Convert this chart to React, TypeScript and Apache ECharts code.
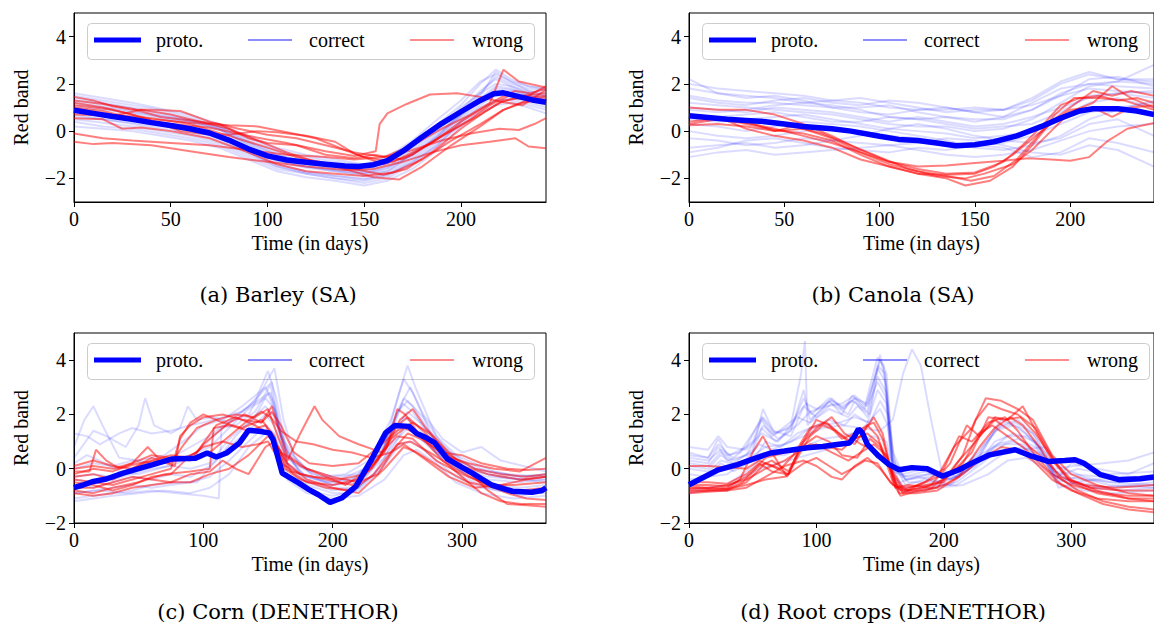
import React, { useEffect, useRef } from "react";
import * as echarts from "echarts";

// ---------- tick labels / texts ----------
const X_TICKS_SA = [0, 50, 100, 150, 200];
const X_TICKS_DEN = [0, 100, 200, 300];
const Y_TICKS = [-2, 0, 2, 4];
const LEGEND_LABELS = ["proto.", "correct", "wrong"];
const CAPTIONS = ["(a) Barley (SA)", "(b) Canola (SA)", "(c) Corn (DENETHOR)", "(d) Root crops (DENETHOR)"];
const X_NAME = "Time (in days)";
const Y_NAME = "Red band";

// ---------- (a) Barley ----------
const PROTO_A = [[0,0.88],[10,0.75],[20,0.62],[30,0.5],[40,0.36],[50,0.24],[60,0.1],[70,-0.08],[80,-0.38],[90,-0.75],[100,-1.05],[110,-1.22],[120,-1.32],[130,-1.4],[140,-1.48],[147,-1.5],[155,-1.42],[162,-1.25],[170,-0.85],[180,-0.25],[190,0.32],[200,0.82],[210,1.3],[217,1.58],[222,1.62],[230,1.46],[237,1.32],[244,1.22]];
const DAYS_A = [0,15,30,45,60,75,90,105,120,135,150,162,175,188,200,210,218,226,235,244];
const CORRECT_A = [
  [1.5,1.3,1.1,0.9,0.6,0.2,-0.4,-0.9,-1.2,-1.4,-1.5,-1.3,-0.7,0.1,1.0,1.6,2.3,2.0,1.8,1.7],
  [0.4,0.2,0.1,-0.1,-0.3,-0.6,-1.1,-1.6,-1.8,-2.0,-2.2,-2.0,-1.4,-0.6,0.4,1.0,1.3,1.3,1.1,0.9],
  [1.2,1.05,0.85,0.6,0.4,0.1,-0.5,-1.0,-1.3,-1.5,-1.7,-1.5,-0.9,-0.1,0.7,1.5,2.5,2.1,1.7,1.5],
  [0.7,0.5,0.3,0.1,-0.1,-0.4,-0.9,-1.4,-1.7,-1.9,-2.0,-1.8,-1.2,-0.4,0.5,1.2,1.6,1.7,1.5,1.3],
  [1.0,0.9,0.75,0.55,0.35,0.05,-0.55,-1.1,-1.4,-1.6,-1.75,-1.6,-1.0,-0.2,0.7,1.4,1.9,1.8,1.6,1.4],
  [0.2,0.1,0.0,-0.2,-0.4,-0.7,-1.2,-1.7,-1.95,-2.1,-2.3,-2.1,-1.6,-0.8,0.2,0.8,1.1,1.2,1.0,0.75],
  [1.4,1.2,1.0,0.8,0.5,0.2,-0.3,-0.8,-1.1,-1.3,-1.45,-1.2,-0.5,0.3,1.1,2.0,2.6,2.2,1.9,1.8],
  [0.9,0.7,0.55,0.35,0.15,-0.2,-0.8,-1.3,-1.55,-1.7,-1.8,-1.7,-1.1,-0.3,0.6,1.3,1.7,1.6,1.5,1.3],
  [0.6,0.5,0.35,0.2,0.0,-0.3,-0.9,-1.5,-1.8,-2.0,-2.1,-1.9,-1.3,-0.5,0.4,1.1,1.5,1.5,1.3,1.1],
  [1.1,1.0,0.8,0.65,0.45,0.15,-0.45,-1.0,-1.35,-1.55,-1.65,-1.4,-0.8,0.0,0.9,1.7,2.2,1.9,1.6,1.5],
  [1.3,1.15,0.95,0.7,0.45,0.1,-0.6,-1.2,-1.5,-1.7,-1.9,-1.7,-1.0,-0.2,0.8,1.6,2.0,1.9,1.7,1.6],
  [0.5,0.35,0.2,0.0,-0.2,-0.5,-1.0,-1.5,-1.75,-1.9,-2.05,-1.85,-1.3,-0.6,0.3,0.9,1.3,1.4,1.2,1.0],
  [0.85,0.65,0.45,0.3,0.05,-0.25,-0.8,-1.25,-1.5,-1.65,-1.8,-1.55,-1.0,-0.25,0.65,1.35,1.8,1.75,1.55,1.35],
  [1.6,1.4,1.2,0.95,0.7,0.3,-0.2,-0.7,-1.0,-1.2,-1.4,-1.1,-0.4,0.5,1.3,2.1,2.4,2.1,1.9,1.75],
];
const WRONG_A = [
  [[0,1.0],[15,0.85],[30,0.55],[50,0.3],[70,0.15],[90,-0.2],[110,-0.5],[130,-0.85],[145,-1.05],[156,-0.85],[158,0.3],[162,0.75],[172,1.15],[184,1.55],[198,1.6],[210,1.45],[220,1.25],[232,1.1],[244,1.75]],
  [[0,-0.1],[15,-0.3],[30,-0.4],[50,-0.5],[70,-0.6],[90,-0.8],[110,-1.0],[130,-1.1],[145,-1.2],[160,-1.1],[175,-0.8],[190,-0.4],[205,-0.1],[220,0.1],[230,0.05],[238,0.3],[244,0.55]],
  [[0,-0.45],[10,-0.55],[20,-0.5],[40,-0.6],[60,-0.85],[80,-1.1],[100,-1.3],[120,-1.5],[140,-1.65],[155,-1.6],[170,-1.3],[185,-0.9],[200,-0.6],[215,-0.45],[228,-0.3],[235,-0.65],[244,-0.72]],
  [[0,1.45],[10,1.3],[20,1.05],[30,0.9],[40,0.9],[55,0.85],[70,0.4],[85,0.1],[100,-0.15],[115,-0.3],[130,-0.6],[145,-0.9],[160,-1.1],[175,-0.6],[190,0.1],[205,0.7],[215,1.2],[222,2.6],[230,2.1],[244,1.85]],
  [[0,1.2],[15,1.0],[30,0.7],[45,0.3],[55,0.0],[65,-0.1],[80,-0.15],[95,0.0],[105,-0.05],[120,-0.2],[135,-0.45],[145,-0.95],[160,-1.4],[175,-1.0],[190,-0.2],[205,0.5],[215,1.1],[225,1.5],[235,1.5],[244,1.9]],
  [[0,1.1],[20,0.9],[40,0.5],[60,0.35],[80,0.25],[95,0.2],[110,-0.05],[125,-0.3],[140,-0.8],[150,-1.1],[165,-1.3],[180,-0.7],[195,0.0],[210,0.7],[220,1.2],[232,1.5],[244,1.6]],
  [[0,0.55],[15,0.5],[25,0.1],[35,0.15],[50,0.0],[70,-0.3],[90,-0.9],[105,-1.4],[120,-1.7],[135,-1.8],[150,-1.9],[165,-1.75],[180,-1.2],[195,-0.4],[210,0.3],[222,0.9],[232,1.2],[244,1.35]],
  [[0,0.95],[20,0.7],[40,0.55],[60,0.3],[80,-0.2],[100,-0.7],[115,-1.1],[130,-1.35],[145,-1.6],[160,-1.85],[172,-1.6],[185,-0.9],[200,0.1],[212,0.8],[222,1.3],[232,1.4],[244,1.5]],
  [[0,0.7],[20,0.65],[35,0.9],[50,0.7],[65,0.4],[80,0.1],[95,-0.4],[110,-0.9],[125,-1.3],[140,-1.6],[155,-1.95],[168,-2.05],[180,-1.5],[195,-0.6],[210,0.2],[222,0.9],[234,1.3],[244,1.45]],
  [[0,1.3],[15,1.15],[30,0.95],[45,0.6],[60,0.45],[75,0.3],[90,-0.3],[100,-0.5],[115,-0.6],[130,-1.0],[145,-1.15],[155,-1.0],[170,-1.2],[185,-0.5],[200,0.4],[212,1.0],[220,1.4],[228,1.7],[236,1.6],[244,1.8]],
];

// ---------- (b) Canola ----------
const PROTO_B = [[0,0.65],[10,0.58],[20,0.5],[30,0.45],[40,0.4],[50,0.3],[60,0.2],[75,0.1],[85,0.0],[100,-0.22],[110,-0.35],[120,-0.4],[130,-0.5],[140,-0.62],[150,-0.58],[160,-0.45],[172,-0.2],[185,0.2],[195,0.55],[205,0.85],[212,0.95],[225,0.95],[235,0.85],[244,0.7]];
const DAYS_B = [0,15,30,45,60,75,90,105,120,135,150,165,180,195,210,225,244];
const CORRECT_B = [
  [2.2,1.6,1.5,1.4,1.2,1.1,0.9,0.6,0.5,0.6,0.4,0.6,1.2,1.8,2.0,2.1,2.0],
  [1.5,1.3,1.2,1.2,1.1,1.0,1.0,1.1,0.8,0.6,0.5,0.5,0.9,1.5,1.8,1.7,1.6],
  [1.2,1.1,1.0,0.9,0.8,0.7,0.5,0.3,0.2,0.2,0.0,0.1,0.5,1.2,1.9,2.1,2.8],
  [-0.7,-0.6,-0.5,-0.7,-0.6,-0.4,-0.5,-0.6,-0.8,-1.0,-1.1,-1.0,-0.8,-0.4,0.0,0.2,0.3],
  [-1.1,-0.9,-0.8,-1.0,-0.9,-0.8,-0.7,-0.6,-0.5,-0.3,-0.4,-0.6,-0.9,-1.0,-0.6,-0.8,-1.5],
  [0.9,0.8,0.9,1.1,1.2,1.3,1.2,1.0,0.9,0.9,1.0,0.9,1.1,1.5,2.2,2.3,1.9],
  [0.0,-0.2,-0.3,-0.2,0.0,0.1,0.0,-0.2,-0.3,-0.5,-0.6,-0.5,-0.2,0.3,0.8,1.0,1.2],
  [1.8,1.6,1.4,1.5,1.3,1.0,0.8,0.7,0.9,1.0,0.8,0.6,0.9,1.6,2.0,1.9,1.8],
  [0.5,0.4,0.5,0.6,0.7,0.5,0.3,0.1,0.0,-0.1,-0.3,-0.2,0.0,0.6,1.2,1.4,1.0],
  [1.0,0.9,0.8,1.0,0.9,0.8,0.6,0.4,0.6,0.4,0.2,0.3,0.6,1.0,1.4,1.6,1.7],
  [-0.3,-0.4,-0.6,-0.5,-0.3,-0.4,-0.2,0.1,0.3,0.1,-0.2,-0.4,-0.5,-0.3,0.3,0.5,-0.2],
  [1.4,1.2,1.1,1.3,1.4,1.2,1.1,1.3,1.2,1.0,0.8,0.9,1.3,2.0,2.4,2.2,2.2],
  [0.3,0.2,0.0,0.2,0.4,0.3,0.2,0.0,-0.2,-0.4,-0.7,-0.8,-0.6,-0.2,0.5,0.9,1.3],
  [2.0,1.8,1.7,1.6,1.5,1.3,1.4,1.2,1.0,0.8,0.9,0.9,1.4,2.1,2.5,2.2,2.1],
  [-0.9,-0.7,-0.4,-0.3,-0.5,-0.7,-0.8,-0.9,-0.7,-0.8,-0.6,-0.7,-1.1,-0.9,-0.3,-0.5,-0.9],
  [0.7,0.6,0.7,0.8,0.6,0.4,0.4,0.6,0.5,0.3,0.1,0.2,0.3,0.8,1.5,1.6,1.4],
];
const WRONG_B = [
  [[0,1.0],[15,0.9],[30,0.9],[45,0.7],[60,0.3],[75,-0.2],[90,-0.8],[105,-1.3],[120,-1.6],[135,-1.8],[150,-1.75],[165,-1.3],[175,-0.6],[185,0.2],[195,1.1],[205,1.4],[215,1.5],[225,1.3],[235,1.4],[244,1.2]],
  [[0,0.3],[15,0.5],[30,0.4],[45,0.0],[55,0.2],[70,-0.1],[85,-0.6],[100,-1.1],[115,-1.6],[130,-1.9],[145,-2.0],[155,-1.8],[170,-1.4],[180,-0.8],[190,0.0],[200,0.8],[212,1.2],[222,1.9],[232,1.4],[244,1.0]],
  [[0,0.6],[15,0.6],[30,0.1],[45,-0.2],[60,-0.4],[75,-0.7],[90,-1.2],[105,-1.5],[120,-1.8],[135,-2.0],[145,-2.3],[158,-2.1],[170,-1.5],[180,-0.6],[190,0.4],[200,1.0],[212,1.7],[222,1.5],[232,1.7],[244,1.5]],
  [[0,0.25],[15,0.3],[30,0.2],[45,0.0],[60,0.1],[75,-0.3],[90,-0.9],[105,-1.3],[120,-1.5],[135,-1.45],[150,-1.35],[165,-1.25],[178,-1.15],[190,-1.2],[200,-1.25],[210,-1.1],[220,-0.4],[230,0.1],[244,0.35]],
  [[0,0.7],[15,0.5],[30,0.35],[45,0.1],[60,-0.2],[75,-0.5],[90,-0.9],[105,-1.4],[120,-1.7],[135,-1.9],[148,-2.1],[160,-1.9],[172,-1.2],[182,-0.3],[192,0.7],[202,1.4],[215,1.4],[228,1.3],[244,0.9]],
  [[0,0.4],[15,0.55],[30,0.3],[45,0.05],[60,-0.1],[75,-0.4],[90,-1.0],[105,-1.5],[120,-1.8],[135,-1.85],[150,-1.8],[160,-1.5],[170,-1.0],[182,-0.2],[190,0.3],[200,0.9],[212,1.0],[222,0.6],[232,1.0],[244,1.1]],
];

// ---------- (c) Corn ----------
const PROTO_C = [[0,-0.7],[7,-0.6],[15,-0.47],[25,-0.38],[38,-0.16],[50,0.0],[61,0.15],[76,0.36],[94,0.39],[103,0.58],[110,0.43],[118,0.58],[128,0.95],[135,1.42],[143,1.38],[151,1.32],[154,1.07],[161,-0.16],[174,-0.53],[181,-0.75],[189,-0.96],[198,-1.24],[207,-1.08],[218,-0.65],[230,0.33],[241,1.32],[248,1.59],[259,1.56],[265,1.3],[272,1.15],[279,0.95],[289,0.35],[300,0.05],[308,-0.16],[323,-0.6],[339,-0.83],[354,-0.87],[362,-0.8],[365,-0.7]];
const CORRECT_C = [
  [[0,-0.9],[20,-0.8],[40,-0.9],[60,-0.8],[80,-0.9],[100,-1.0],[112,-1.1],[114,1.5],[125,1.6],[140,2.1],[152,3.1],[158,1.5],[165,0.2],[180,-0.3],[200,-0.6],[220,-0.5],[240,0.4],[255,1.9],[265,1.6],[280,0.6],[300,-0.1],[320,-0.4],[345,-0.5],[365,-0.4]],
  [[0,0.8],[8,1.8],[15,2.3],[22,1.6],[35,0.4],[50,0.3],[70,0.5],[90,1.2],[100,1.6],[115,1.8],[130,2.3],[148,3.0],[155,2.4],[165,0.5],[180,-0.4],[200,-0.7],[220,-0.7],[240,0.6],[255,2.6],[262,2.3],[280,1.0],[300,0.0],[330,-0.3],[365,-0.5]],
  [[0,0.4],[15,1.4],[25,1.2],[40,0.8],[50,1.6],[55,2.6],[62,1.6],[75,1.3],[82,1.5],[88,2.3],[95,1.8],[108,1.9],[120,1.7],[135,2.0],[150,3.3],[155,3.7],[162,1.8],[170,0.5],[185,-0.3],[200,-0.6],[220,-0.4],[240,0.8],[252,2.9],[258,3.8],[264,3.0],[280,1.2],[300,0.3],[320,-0.1],[345,-0.3],[365,-0.2]],
  [[0,-1.1],[15,-1.0],[30,-0.9],[45,-0.8],[60,-0.6],[80,-0.5],[95,-0.5],[110,0.3],[125,1.2],[140,1.9],[150,2.8],[156,2.0],[165,0.2],[180,-0.5],[200,-0.8],[220,-0.7],[240,0.2],[255,1.5],[265,1.3],[285,0.4],[300,-0.3],[320,-0.7],[345,-1.0],[365,-0.8]],
  [[0,-0.3],[15,-0.2],[30,-0.3],[45,0.0],[60,0.1],[75,0.3],[90,0.5],[105,0.8],[120,1.5],[135,2.2],[148,2.6],[155,2.2],[163,0.8],[175,-0.2],[195,-0.5],[215,-0.4],[235,0.4],[250,1.6],[258,2.1],[270,1.6],[285,0.7],[300,0.0],[320,-0.3],[345,-0.4],[365,-0.3]],
  [[0,-0.6],[15,-0.7],[30,-0.5],[45,-0.3],[60,-0.4],[75,-0.2],[90,-0.3],[105,0.1],[120,0.8],[135,1.4],[148,2.0],[155,1.6],[165,0.0],[180,-0.6],[200,-0.9],[215,-0.9],[232,-0.2],[248,1.0],[258,1.5],[270,1.0],[290,0.2],[305,-0.3],[325,-0.6],[345,-0.7],[365,-0.6]],
  [[0,0.2],[10,0.5],[20,0.3],[35,-0.1],[50,-0.2],[65,0.0],[80,0.2],[95,0.6],[110,1.3],[125,1.9],[140,2.5],[150,3.6],[156,2.7],[163,1.0],[175,0.1],[190,-0.3],[210,-0.2],[228,0.3],[245,1.8],[255,3.3],[262,2.8],[275,1.4],[290,0.5],[310,0.0],[335,-0.2],[365,-0.3]],
  [[0,-0.9],[15,-0.8],[30,-0.7],[45,-0.6],[60,-0.7],[75,-0.6],[90,-0.5],[105,-0.3],[120,0.3],[135,1.0],[148,1.6],[155,1.3],[165,-0.2],[180,-0.8],[200,-1.0],[220,-0.8],[238,0.0],[252,0.9],[262,1.0],[278,0.4],[295,-0.3],[315,-0.7],[340,-0.9],[365,-0.9]],
  [[0,-0.4],[15,-0.5],[30,-0.4],[45,-0.2],[60,0.0],[75,0.1],[90,0.0],[105,0.2],[120,1.1],[135,1.7],[148,2.3],[155,1.9],[165,0.4],[180,-0.3],[200,-0.5],[220,-0.3],[238,0.6],[250,2.1],[258,2.5],[270,1.9],[285,0.9],[300,0.2],[320,-0.2],[345,-0.4],[365,-0.4]],
  [[0,1.3],[10,1.2],[20,0.9],[35,1.3],[45,1.5],[60,1.3],[75,1.4],[90,1.6],[100,1.7],[115,1.9],[130,2.1],[145,2.6],[152,2.8],[158,1.6],[166,0.6],[180,0.0],[200,-0.3],[220,-0.2],[240,0.9],[252,2.3],[260,3.0],[270,2.0],[285,1.1],[300,0.6],[315,0.8],[330,0.3],[365,-0.1]],
  [[0,-1.2],[15,-1.1],[30,-1.0],[50,-0.9],[70,-0.8],[90,-0.9],[105,-0.7],[120,-0.2],[135,0.8],[148,1.3],[155,1.0],[165,-0.4],[180,-0.9],[200,-1.1],[220,-1.0],[240,-0.4],[255,0.5],[265,0.7],[280,0.2],[295,-0.5],[315,-0.9],[340,-1.1],[365,-1.0]],
  [[0,0.0],[15,0.2],[30,0.1],[45,0.3],[60,0.2],[75,0.4],[90,0.8],[105,1.2],[120,1.8],[135,2.3],[147,2.9],[153,3.2],[160,1.2],[170,0.2],[185,-0.2],[205,-0.4],[225,0.0],[242,1.2],[254,2.4],[262,2.1],[275,1.2],[290,0.6],[305,0.3],[325,-0.1],[345,-0.3],[365,-0.2]],
];
const WRONG_C = [
  [[0,-0.1],[12,-0.1],[17,0.7],[25,0.3],[35,0.0],[50,0.2],[65,0.3],[78,0.1],[82,1.2],[90,1.6],[100,1.9],[115,2.0],[130,1.8],[145,1.7],[153,2.3],[158,1.5],[165,0.5],[180,0.0],[200,-0.3],[220,-0.5],[235,0.3],[248,1.5],[258,1.9],[270,1.4],[285,0.6],[300,0.1],[320,-0.2],[345,-0.4],[365,-0.3]],
  [[0,-0.3],[15,-0.2],[30,-0.4],[45,0.0],[60,0.4],[75,0.2],[85,0.9],[95,1.5],[110,1.8],[125,2.0],[140,1.9],[150,2.2],[156,1.4],[165,0.3],[175,1.3],[186,2.3],[192,1.8],[205,1.2],[220,0.9],[238,0.6],[250,1.2],[262,1.1],[280,0.3],[300,-0.2],[320,-0.6],[340,-0.6],[365,-0.5]],
  [[0,-0.8],[15,-0.9],[30,-0.7],[50,-0.5],[70,-0.2],[90,-0.1],[105,0.0],[108,1.5],[120,1.6],[135,1.4],[148,1.6],[155,1.0],[165,0.0],[180,-0.5],[200,-0.6],[220,-0.4],[240,0.6],[252,1.8],[262,2.2],[272,1.5],[290,0.6],[305,-0.1],[320,-0.8],[335,-1.3],[350,-1.35],[365,-1.4]],
  [[0,-0.5],[15,-0.6],[30,-0.8],[45,-0.6],[60,-0.3],[75,-0.2],[88,0.4],[100,0.8],[115,1.0],[130,0.8],[142,0.9],[150,1.0],[160,0.2],[175,-0.2],[195,-0.4],[215,-0.6],[235,-0.2],[250,0.9],[260,1.0],[275,0.6],[295,0.0],[315,-0.5],[335,-0.9],[350,-1.1],[365,-1.15]],
  [[0,-0.2],[15,0.0],[30,-0.1],[45,0.2],[57,0.8],[65,0.4],[80,0.3],[95,0.6],[110,1.6],[125,1.9],[140,1.6],[150,1.3],[160,0.6],[175,0.1],[195,-0.3],[210,-0.6],[230,0.0],[245,1.1],[256,1.5],[268,1.2],[285,0.5],[305,0.2],[325,0.0],[345,-0.1],[365,0.4]],
  [[0,-0.7],[15,-0.7],[30,-0.5],[45,-0.3],[60,-0.4],[75,-0.5],[90,-0.2],[105,-0.1],[115,0.3],[125,0.0],[135,-0.2],[148,0.8],[155,1.0],[165,0.2],[180,-0.4],[200,-0.7],[220,-0.9],[240,0.0],[255,0.8],[265,0.6],[285,0.0],[305,-0.5],[325,-0.7],[345,-0.8],[365,-0.7]],
  [[0,0.1],[15,0.3],[30,0.1],[45,0.0],[60,0.3],[75,0.5],[90,0.4],[105,0.6],[120,1.2],[135,1.8],[145,2.1],[152,1.9],[160,1.4],[172,1.0],[185,0.9],[200,0.7],[215,0.6],[230,0.4],[245,0.6],[258,1.3],[268,1.1],[285,0.6],[300,0.5],[315,0.2],[335,0.0],[350,-0.05],[365,0.0]],
  [[0,-0.4],[15,-0.5],[30,-0.6],[45,-0.4],[60,-0.2],[75,0.0],[82,1.1],[90,1.7],[100,2.0],[115,1.7],[130,1.5],[145,1.8],[155,1.2],[163,0.0],[175,-0.4],[195,-0.7],[215,-0.8],[232,-0.2],[245,0.6],[255,0.9],[270,0.4],[290,-0.3],[310,-0.7],[330,-0.6],[350,-0.4],[365,-0.3]],
  [[0,-0.9],[15,-1.0],[30,-0.9],[45,-0.7],[60,-0.6],[75,-0.5],[90,-0.5],[105,-0.2],[120,0.0],[135,0.5],[150,1.2],[158,0.8],[168,-0.1],[185,-0.3],[205,-0.4],[225,-0.2],[242,0.8],[250,2.2],[256,2.0],[268,1.2],[285,0.3],[300,-0.3],[315,-0.9],[330,-1.2],[345,-1.3],[365,-1.3]],
  [[0,0.0],[15,0.1],[30,0.0],[45,0.2],[60,0.5],[75,0.4],[90,0.3],[100,0.9],[110,1.3],[120,1.7],[132,2.0],[145,1.7],[153,2.1],[160,1.6],[170,0.6],[182,0.2],[200,0.1],[220,0.2],[238,0.9],[250,1.4],[262,1.7],[275,1.3],[290,0.5],[310,0.0],[330,-0.2],[350,-0.3],[365,-0.2]],
];

// ---------- (d) Root crops ----------
const PROTO_D = [[0,-0.59],[10,-0.35],[23,-0.04],[38,0.15],[50,0.35],[64,0.58],[75,0.65],[82,0.7],[93,0.77],[105,0.82],[116,0.89],[126,0.95],[130,1.2],[133,1.46],[136,1.33],[140,0.9],[149,0.46],[157,0.15],[165,-0.04],[175,0.04],[187,0.0],[199,-0.28],[212,-0.04],[224,0.25],[236,0.51],[256,0.7],[269,0.46],[282,0.27],[295,0.3],[303,0.33],[310,0.2],[323,-0.22],[338,-0.41],[354,-0.37],[365,-0.3]];
const CORRECT_D = [
  [[0,0.6],[15,0.4],[23,1.1],[30,0.5],[40,0.6],[57,1.8],[65,1.2],[80,1.6],[88,3.5],[91,4.7],[93,1.6],[100,2.0],[110,2.5],[120,2.0],[128,2.7],[138,2.3],[148,4.1],[153,3.8],[158,0.5],[165,-0.5],[180,-0.3],[200,-0.5],[220,0.0],[240,0.8],[255,1.0],[270,0.6],[285,0.0],[300,-0.5],[320,-0.7],[345,-0.6],[365,-0.5]],
  [[0,0.3],[15,0.2],[23,0.8],[30,0.3],[45,0.5],[57,1.5],[68,1.0],[80,1.4],[90,2.9],[95,1.8],[105,2.2],[112,2.6],[120,2.2],[130,2.6],[140,2.1],[148,3.8],[154,3.5],[160,0.2],[170,-0.6],[185,-0.4],[205,-0.6],[225,0.2],[240,1.4],[255,1.6],[270,1.1],[285,-0.2],[300,-0.5],[320,-0.4],[345,-0.3],[365,-0.4]],
  [[0,0.1],[15,0.0],[25,0.5],[35,0.2],[50,0.7],[58,2.2],[66,1.4],[80,1.2],[90,2.3],[100,1.9],[112,2.4],[125,2.0],[130,2.5],[140,1.9],[148,3.4],[155,2.8],[160,-0.1],[172,-0.3],[190,-0.2],[210,-0.1],[228,0.6],[245,1.8],[260,1.5],[275,0.8],[288,-0.5],[305,-0.3],[330,-0.6],[365,-0.7]],
  [[0,0.8],[15,0.7],[23,1.2],[30,0.8],[45,0.7],[57,1.3],[70,1.0],[85,1.9],[95,1.7],[110,2.2],[125,1.9],[132,2.3],[142,2.0],[150,4.2],[155,3.0],[160,0.6],[168,-0.2],[185,0.0],[205,-0.2],[225,0.4],[242,0.9],[258,1.1],[272,0.8],[288,-0.4],[300,0.2],[320,0.0],[345,-0.2],[365,0.2]],
  [[0,-0.2],[15,-0.3],[30,-0.2],[45,0.3],[60,0.8],[75,0.9],[90,1.2],[105,1.5],[120,1.6],[135,1.5],[150,1.4],[160,1.8],[168,3.5],[175,4.4],[182,3.8],[190,1.8],[198,0.0],[210,-0.3],[230,0.3],[245,0.6],[260,0.7],[280,0.8],[290,0.1],[310,-0.3],[330,-0.5],[365,-0.6]],
  [[0,-0.4],[15,-0.3],[25,0.2],[35,-0.1],[50,0.3],[60,1.0],[72,0.8],[85,1.3],[95,1.5],[110,1.8],[122,1.6],[130,2.0],[140,1.7],[148,2.9],[155,2.4],[160,-0.3],[170,-0.7],[190,-0.6],[210,-0.6],[230,0.0],[248,0.6],[262,0.8],[280,0.3],[292,-0.6],[310,-0.8],[335,-0.9],[365,-0.8]],
  [[0,0.5],[15,0.4],[23,0.9],[32,0.5],[45,0.8],[57,1.9],[66,1.3],[80,1.5],[90,2.6],[96,2.0],[110,2.6],[120,2.3],[128,2.5],[138,2.2],[148,3.7],[154,3.2],[160,0.0],[170,-0.4],[190,-0.3],[210,-0.3],[228,0.5],[242,1.5],[256,1.7],[270,1.3],[286,-0.1],[300,-0.2],[325,-0.3],[365,-0.3]],
  [[0,-0.8],[15,-0.7],[30,-0.6],[45,-0.1],[60,0.5],[75,0.5],[90,0.8],[105,1.1],[120,1.2],[135,1.4],[150,2.2],[156,1.6],[162,-0.5],[172,-0.8],[190,-0.7],[210,-0.5],[230,0.2],[248,0.9],[262,0.9],[278,0.5],[292,-0.3],[310,-0.4],[335,-0.5],[365,-0.4]],
  [[0,0.2],[15,0.1],[25,0.6],[35,0.3],[50,0.6],[58,1.6],[70,1.1],[85,1.6],[95,2.1],[108,2.3],[120,2.4],[130,2.7],[140,2.3],[148,3.2],[155,2.6],[160,0.3],[168,-0.3],[185,-0.1],[205,-0.4],[225,0.1],[240,1.0],[255,1.3],[272,1.0],[288,-0.3],[305,0.0],[330,-0.2],[365,-0.1]],
  [[0,0.0],[15,-0.1],[25,0.3],[40,0.1],[55,0.9],[65,0.7],[80,1.0],[92,1.4],[105,1.6],[118,1.7],[130,1.9],[142,1.7],[150,2.5],[156,2.0],[162,0.1],[172,-0.5],[192,-0.5],[212,-0.3],[232,0.5],[250,1.2],[265,1.2],[280,0.6],[290,-0.7],[305,-0.5],[330,-0.7],[365,-0.6]],
  [[0,-0.9],[15,-0.8],[30,-0.8],[40,-0.4],[55,0.0],[70,0.2],[85,0.4],[100,0.6],[115,0.8],[130,1.0],[145,1.2],[155,1.0],[162,-0.7],[175,-0.9],[195,-0.7],[215,-0.6],[235,-0.2],[250,0.3],[265,0.4],[280,0.0],[295,-0.5],[315,-0.7],[340,-0.8],[365,-0.7]],
  [[0,0.4],[15,0.3],[25,0.7],[35,0.4],[50,1.0],[58,1.9],[68,1.3],[82,1.8],[92,2.4],[100,2.2],[112,2.5],[122,2.2],[130,2.6],[140,2.4],[150,4.0],[155,3.5],[160,0.4],[170,-0.4],[188,-0.2],[208,-0.4],[228,0.7],[245,1.6],[258,1.8],[272,1.2],[287,0.0],[302,0.1],[325,0.2],[345,0.3],[365,0.6]],
];
const WRONG_D = [
  [[0,-0.7],[15,-0.75],[30,-0.7],[40,-0.4],[50,0.6],[58,1.2],[65,0.6],[77,-0.3],[85,0.4],[95,1.2],[105,1.6],[115,1.4],[125,1.0],[135,1.2],[145,1.9],[152,1.3],[160,-0.4],[168,-0.9],[180,-0.6],[195,-0.3],[208,0.8],[222,1.5],[233,2.6],[245,2.5],[258,2.2],[270,1.8],[285,0.5],[300,-0.2],[320,-0.6],[345,-0.9],[365,-1.0]],
  [[0,-0.8],[15,-0.8],[30,-0.8],[45,-0.5],[60,0.2],[72,0.0],[82,0.5],[95,1.5],[108,1.7],[118,1.3],[130,0.9],[140,1.6],[148,1.2],[160,-0.5],[166,-1.0],[180,-0.8],[195,-0.7],[210,0.2],[225,1.0],[240,1.9],[250,1.8],[262,2.3],[270,1.6],[285,0.3],[300,-0.5],[320,-0.9],[345,-1.1],[365,-1.1]],
  [[0,0.1],[15,0.1],[30,0.05],[45,0.0],[55,0.3],[65,0.1],[78,-0.2],[88,0.9],[100,1.5],[112,1.9],[122,1.3],[135,0.9],[145,0.7],[155,0.3],[163,-0.6],[172,-0.8],[190,-0.6],[205,0.2],[218,1.6],[228,1.2],[240,1.8],[252,1.4],[265,0.9],[280,0.3],[292,-0.3],[310,-0.6],[335,-0.7],[365,-0.6]],
  [[0,-0.6],[15,-0.6],[30,-0.65],[45,-0.3],[60,0.4],[75,0.6],[90,0.7],[100,0.9],[112,0.6],[125,0.3],[135,0.6],[145,0.9],[155,0.5],[165,-0.9],[178,-0.9],[195,-0.8],[212,-0.3],[228,0.8],[240,1.5],[252,1.9],[262,1.6],[275,0.8],[290,-0.3],[305,-0.8],[325,-1.2],[345,-1.4],[365,-1.5]],
  [[0,-0.9],[15,-0.85],[30,-0.8],[45,-0.7],[60,-0.3],[75,0.1],[90,0.3],[100,0.1],[112,-0.3],[120,-0.4],[130,0.1],[140,0.4],[150,0.0],[160,-0.6],[170,-0.8],[185,-0.7],[200,-0.4],[215,0.2],[228,1.3],[238,1.6],[250,1.2],[262,0.8],[275,0.2],[290,-0.5],[305,-0.9],[325,-1.3],[345,-1.5],[365,-1.6]],
  [[0,-0.75],[15,-0.7],[30,-0.75],[42,-0.5],[55,0.1],[65,0.3],[78,-0.1],[88,0.8],[100,1.2],[110,1.0],[120,0.5],[132,0.4],[142,1.1],[150,0.8],[160,-0.2],[168,-0.8],[185,-0.5],[200,0.0],[212,1.2],[222,1.0],[235,1.7],[248,1.9],[258,1.4],[270,0.6],[285,-0.2],[300,-0.6],[325,-0.9],[345,-1.0],[365,-1.0]],
  [[0,-0.85],[15,-0.8],[30,-0.75],[45,-0.6],[60,-0.4],[75,-0.3],[90,0.2],[100,0.4],[110,0.1],[120,-0.2],[128,0.0],[138,0.3],[148,0.2],[158,-0.5],[168,-0.85],[185,-0.8],[200,-0.6],[215,-0.2],[230,0.4],[245,0.8],[258,0.7],[270,0.3],[285,-0.4],[300,-0.8],[320,-1.1],[345,-1.2],[365,-1.2]],
  [[0,-0.5],[15,-0.5],[30,-0.55],[45,-0.2],[55,0.2],[65,-0.1],[78,-0.2],[90,1.0],[100,1.8],[110,1.6],[120,1.1],[130,1.3],[140,1.6],[145,1.7],[152,1.1],[162,-0.7],[172,-0.6],[190,-0.7],[205,-0.2],[222,0.6],[235,1.9],[248,1.8],[260,1.9],[272,1.3],[285,0.4],[298,-0.4],[315,-0.7],[340,-0.8],[365,-0.8]],
  [[0,-0.65],[15,-0.7],[30,-0.6],[45,-0.4],[60,0.0],[75,0.3],[85,0.6],[95,0.9],[108,0.8],[120,0.7],[130,1.1],[140,1.3],[150,0.9],[160,-0.1],[168,-0.7],[185,-0.6],[200,-0.5],[215,0.5],[225,1.8],[235,2.4],[245,2.2],[258,2.0],[272,1.5],[288,0.2],[300,-0.4],[320,-0.8],[345,-1.1],[365,-1.2]],
];

const zipDays = (days: number[], rows: number[][]) => rows.map((r) => r.map((v, i) => [days[i], v]));

const PANELS = [
  { proto: PROTO_A, correct: zipDays(DAYS_A, CORRECT_A), wrong: WRONG_A, xTicks: X_TICKS_SA, xMax: 244, yMin: -3 },
  { proto: PROTO_B, correct: zipDays(DAYS_B, CORRECT_B), wrong: WRONG_B, xTicks: X_TICKS_SA, xMax: 244, yMin: -3 },
  { proto: PROTO_C, correct: CORRECT_C, wrong: WRONG_C, xTicks: X_TICKS_DEN, xMax: 365, yMin: -2 },
  { proto: PROTO_D, correct: CORRECT_D, wrong: WRONG_D, xTicks: X_TICKS_DEN, xMax: 365, yMin: -2 },
];

// layout (pixels)
const BOXES = [
  { left: 74, top: 13, width: 472, height: 189, capX: 278, capY: 295 },
  { left: 689, top: 13, width: 472, height: 189, capX: 893, capY: 295 },
  { left: 74, top: 333, width: 472, height: 190, capX: 278, capY: 612 },
  { left: 689, top: 333, width: 472, height: 190, capX: 893, capY: 612 },
];

const SERIF = "'Liberation Serif', 'Times New Roman', serif";
const PROTO_COLOR = "#0000ff";
const CORRECT_COLOR = "rgba(0,0,255,0.14)";
const WRONG_COLOR = "rgba(255,0,0,0.5)";
const CORRECT_LEGEND = "rgba(0,0,255,0.45)";
const WRONG_LEGEND = "rgba(255,0,0,0.45)";

const fmtY = (v: number) => (v < 0 ? "\u2212" + Math.abs(v) : String(v));

function buildOption() {
  const grid: any[] = [];
  const xAxis: any[] = [];
  const yAxis: any[] = [];
  const series: any[] = [];
  const graphic: any[] = [];

  PANELS.forEach((p, i) => {
    const b = BOXES[i];
    grid.push({
      left: b.left, top: b.top, width: b.width, height: b.height,
      show: true, borderColor: "#000", borderWidth: 1, backgroundColor: "transparent", containLabel: false,
    });
    xAxis.push({
      type: "value", gridIndex: i, min: 0, max: p.xMax,
      name: X_NAME, nameLocation: "middle", nameGap: 31,
      nameTextStyle: { fontFamily: SERIF, fontSize: 20, color: "#000" },
      axisLine: { show: true, onZero: false, lineStyle: { color: "#000", width: 1 } },
      axisTick: { show: true, length: 5, customValues: p.xTicks, lineStyle: { color: "#000", width: 1 } },
      axisLabel: { customValues: p.xTicks, fontFamily: SERIF, fontSize: 20, color: "#000", margin: 7 },
      splitLine: { show: false },
    });
    yAxis.push({
      type: "value", gridIndex: i, min: p.yMin, max: 5,
      name: Y_NAME, nameLocation: "middle", nameGap: 43, nameRotate: 90,
      nameTextStyle: { fontFamily: SERIF, fontSize: 20, color: "#000" },
      axisLine: { show: true, onZero: false, lineStyle: { color: "#000", width: 1 } },
      axisTick: { show: true, length: 5, customValues: Y_TICKS, lineStyle: { color: "#000", width: 1 } },
      axisLabel: { customValues: Y_TICKS, formatter: fmtY, fontFamily: SERIF, fontSize: 20, color: "#000", margin: 8 },
      splitLine: { show: false },
    });
    p.correct.forEach((line) => {
      series.push({
        type: "line", name: "correct", xAxisIndex: i, yAxisIndex: i, data: line,
        showSymbol: false, symbol: "none", silent: true, z: 2,
        lineStyle: { color: CORRECT_COLOR, width: 2 },
      });
    });
    p.wrong.forEach((line) => {
      series.push({
        type: "line", name: "wrong", xAxisIndex: i, yAxisIndex: i, data: line,
        showSymbol: false, symbol: "none", silent: true, z: 3,
        lineStyle: { color: WRONG_COLOR, width: 2 },
      });
    });
    series.push({
      type: "line", name: "proto.", xAxisIndex: i, yAxisIndex: i, data: p.proto,
      showSymbol: false, symbol: "none", silent: true, z: 4,
      lineStyle: { color: PROTO_COLOR, width: 5.5 },
    });

    // legend box (matplotlib-style)
    const L = b.left, T = b.top;
    const ly = T + 27;
    graphic.push({
      type: "group", z: 100, silent: true,
      children: [
        { type: "rect", shape: { x: L + 13.5, y: T + 10.5, width: 447, height: 36, r: 4 },
          style: { fill: "rgba(255,255,255,0.8)", stroke: "#cccccc", lineWidth: 1 } },
        { type: "line", shape: { x1: L + 20, y1: ly, x2: L + 67, y2: ly }, style: { stroke: PROTO_COLOR, lineWidth: 5 } },
        { type: "text", x: L + 82, y: ly, style: { text: LEGEND_LABELS[0], fill: "#000", fontFamily: SERIF, fontSize: 20, align: "left", verticalAlign: "middle", textAlign: "left", textVerticalAlign: "middle" } },
        { type: "line", shape: { x1: L + 174, y1: ly, x2: L + 218, y2: ly }, style: { stroke: CORRECT_LEGEND, lineWidth: 2 } },
        { type: "text", x: L + 235, y: ly, style: { text: LEGEND_LABELS[1], fill: "#000", fontFamily: SERIF, fontSize: 20, align: "left", verticalAlign: "middle", textAlign: "left", textVerticalAlign: "middle" } },
        { type: "line", shape: { x1: L + 336, y1: ly, x2: L + 380, y2: ly }, style: { stroke: WRONG_LEGEND, lineWidth: 2 } },
        { type: "text", x: L + 398, y: ly, style: { text: LEGEND_LABELS[2], fill: "#000", fontFamily: SERIF, fontSize: 20, align: "left", verticalAlign: "middle", textAlign: "left", textVerticalAlign: "middle" } },
      ],
    });
    graphic.push({
      type: "text", z: 100, silent: true, x: b.capX, y: b.capY,
      style: { text: CAPTIONS[i], fill: "#000", fontFamily: "'DejaVu Serif', serif", fontSize: 21, align: "center", verticalAlign: "middle", textAlign: "center", textVerticalAlign: "middle" },
    });
  });

  return { animation: false, backgroundColor: "#ffffff", grid, xAxis, yAxis, series, graphic };
}

export default function App() {
  const ref = useRef<HTMLDivElement>(null);
  useEffect(() => {
    document.body.style.margin = "0";
    if (!ref.current) return;
    const chart = echarts.init(ref.current, undefined, { renderer: "svg" });
    chart.setOption(buildOption() as any);
    return () => chart.dispose();
  }, []);
  return <div ref={ref} style={{ position: "fixed", left: 0, top: 0, width: 1154, height: 628, background: "#fff" }} />;
}
